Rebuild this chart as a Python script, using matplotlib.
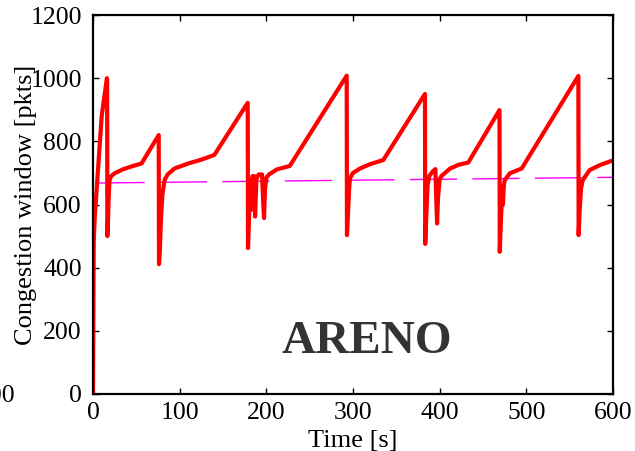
import matplotlib
matplotlib.use("Agg")
import matplotlib.pyplot as plt

plt.rcParams['font.family'] = ['Liberation Serif', 'DejaVu Serif']
plt.rcParams['lines.scale_dashes'] = False

# congestion window trace
time_s = [0, 0.8, 2, 5, 8, 10, 12, 14, 16, 16.3,
          16.5, 17.2, 18, 19, 21, 25, 35, 45, 56,
          75.8, 76.1, 77, 78.5, 80, 82.5, 86, 94, 110, 125, 140,
          178.5, 178.8, 180.5, 181.5, 182.5, 184, 186, 187, 188.5, 191, 195,
          196.5, 197.3, 198.5, 200, 203, 212, 227,
          292.7, 293, 294, 295.5, 296.5, 300, 308, 320, 335,
          383, 383.3, 384.5, 386, 388, 392, 395, 396, 397, 398, 400, 402,
          412, 422, 433,
          469, 469.3, 470.5, 471.5, 473, 474, 475, 481, 494.6,
          560, 560.3, 561.5, 563, 565, 573, 585, 600]
cwnd = [0, 480, 560, 680, 800, 880, 920, 960, 1000, 995,
        500, 540, 620, 677, 690, 699, 712, 721, 730,
        820, 411, 450, 560, 630, 677, 695, 714, 730, 742, 757,
        922, 462, 600, 680, 583, 690, 690, 562, 680, 695, 695,
        600, 557, 650, 685, 695, 711, 722,
        1008, 503, 560, 650, 683, 700, 714, 728, 741,
        950, 475, 560, 660, 690, 705, 712, 620, 540, 620, 680, 690,
        714, 726, 733,
        899, 450, 540, 604, 600, 660, 677, 699, 714,
        1007, 503, 580, 650, 677, 709, 725, 740]

# dashed reference line
ref_t = [5, 600]
ref_w = [668, 686]

fig = plt.figure(figsize=(6.35, 4.51), dpi=100)
ax = fig.add_axes([0.1465, 0.1264, 0.8189, 0.8403])

ax.plot(ref_t, ref_w, color='#ff00ff', lw=1.0, dashes=(34, 11))
ax.plot(time_s, cwnd, color='#ff0000', lw=3, solid_joinstyle='round')

ax.set_xlim(0, 600)
ax.set_ylim(0, 1200)
ax.set_xticks(range(0, 601, 100))
ax.set_yticks(range(0, 1201, 200))
ax.tick_params(direction='in', length=4, width=1, labelsize=18.5,
               top=True, right=True, color='black')
ax.tick_params(axis='x', pad=6)
ax.tick_params(axis='y', pad=8)
for s in ax.spines.values():
    s.set_linewidth(1.6)

ax.set_ylabel('Congestion window [pkts]', fontsize=19)
ax.yaxis.set_label_coords(-0.108, 0.5)
ax.set_xlabel('Time [s]', fontsize=19)
ax.xaxis.set_label_coords(0.5, -0.096)

ax.text(0.527, 0.136, 'ARENO', transform=ax.transAxes, fontsize=34,
        fontweight='bold', color='#333333', ha='center', va='center')

# clipped tick label of the neighbouring panel
fig.text(15 / 635, 1 - 396 / 451, '600', fontsize=18.5, ha='right', va='center')

fig.savefig('out.png', dpi=100)
